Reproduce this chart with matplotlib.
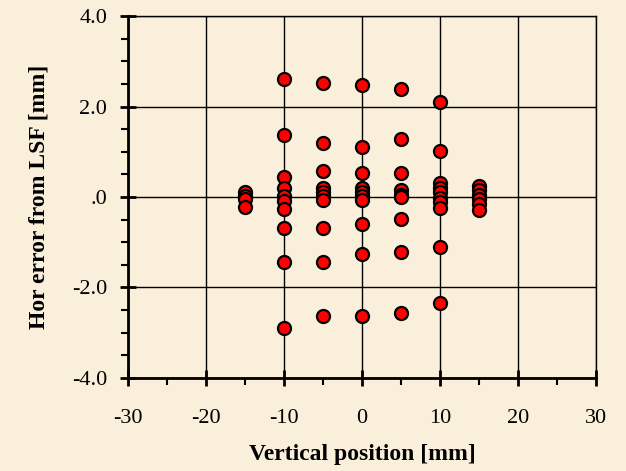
import matplotlib
matplotlib.use("Agg")
import matplotlib.pyplot as plt
from matplotlib.ticker import MultipleLocator

plt.rcParams['axes.unicode_minus'] = False

# horizontal error [mm] measured at each vertical position column
pos_m15 = [-15, -15, -15, -15]
err_m15 = [0.10, 0.02, -0.05, -0.22]

pos_m10 = [-10] * 10
err_m10 = [2.60, 1.36, 0.44, 0.20, 0.02, -0.08, -0.27, -0.69, -1.44, -2.89]

pos_m5 = [-5] * 10
err_m5 = [2.52, 1.19, 0.57, 0.20, 0.12, 0.02, -0.07, -0.69, -1.43, -2.64]

pos_0 = [0] * 10
err_0 = [2.48, 1.10, 0.53, 0.20, 0.12, 0.02, -0.07, -0.60, -1.27, -2.63]

pos_p5 = [5] * 9
err_p5 = [2.39, 1.28, 0.53, 0.15, 0.05, -0.01, -0.48, -1.22, -2.56]

pos_p10 = [10] * 10
err_p10 = [2.10, 1.02, 0.30, 0.20, 0.10, -0.02, -0.12, -0.25, -1.10, -2.35]

pos_p15 = [15] * 6
err_p15 = [0.25, 0.15, 0.05, -0.05, -0.15, -0.28]

x_vals = pos_m15 + pos_m10 + pos_m5 + pos_0 + pos_p5 + pos_p10 + pos_p15
y_vals = err_m15 + err_m10 + err_m5 + err_0 + err_p5 + err_p10 + err_p15

bg = '#faefdb'
fig = plt.figure(figsize=(6.26, 4.71), dpi=100, facecolor=bg)
ax = fig.add_axes([0.2045, 0.1975, 0.7475, 0.7685])
ax.set_facecolor(bg)

ax.set_xlim(-30, 30)
ax.set_ylim(-4, 4)

ax.grid(True, which='major', color='black', linewidth=1.0)
ax.set_axisbelow(True)

ax.scatter(x_vals, y_vals, s=88, c='#ff0000', edgecolors='black', linewidths=1.6, zorder=3)

ax.xaxis.set_major_locator(MultipleLocator(10))
ax.xaxis.set_minor_locator(MultipleLocator(5))
ax.yaxis.set_major_locator(MultipleLocator(2))
ax.yaxis.set_minor_locator(MultipleLocator(0.5))


def yfmt(v, p):
    if abs(v) < 1e-9:
        return '.0'
    return '%.1f' % v


ax.yaxis.set_major_formatter(plt.FuncFormatter(yfmt))

for side in ['top', 'right']:
    ax.spines[side].set_linewidth(1.0)
for side in ['left', 'bottom']:
    ax.spines[side].set_linewidth(2.0)

ax.tick_params(which='major', direction='inout', length=12, width=2.0, labelsize=16)
ax.tick_params(which='minor', direction='out', length=5, width=1.5)
ax.tick_params(axis='x', which='major', pad=16)
ax.tick_params(axis='y', which='major', pad=9)
for lab in ax.get_xticklabels() + ax.get_yticklabels():
    lab.set_fontfamily('Liberation Serif')

ax.set_xlabel('Vertical position [mm]', fontsize=17, fontweight='bold',
              fontfamily='Liberation Serif', labelpad=12)
ax.set_ylabel('Hor error from LSF [mm]', fontsize=17, fontweight='bold',
              fontfamily='Liberation Serif', labelpad=16)

fig.savefig('out.png', dpi=100, facecolor=bg)
